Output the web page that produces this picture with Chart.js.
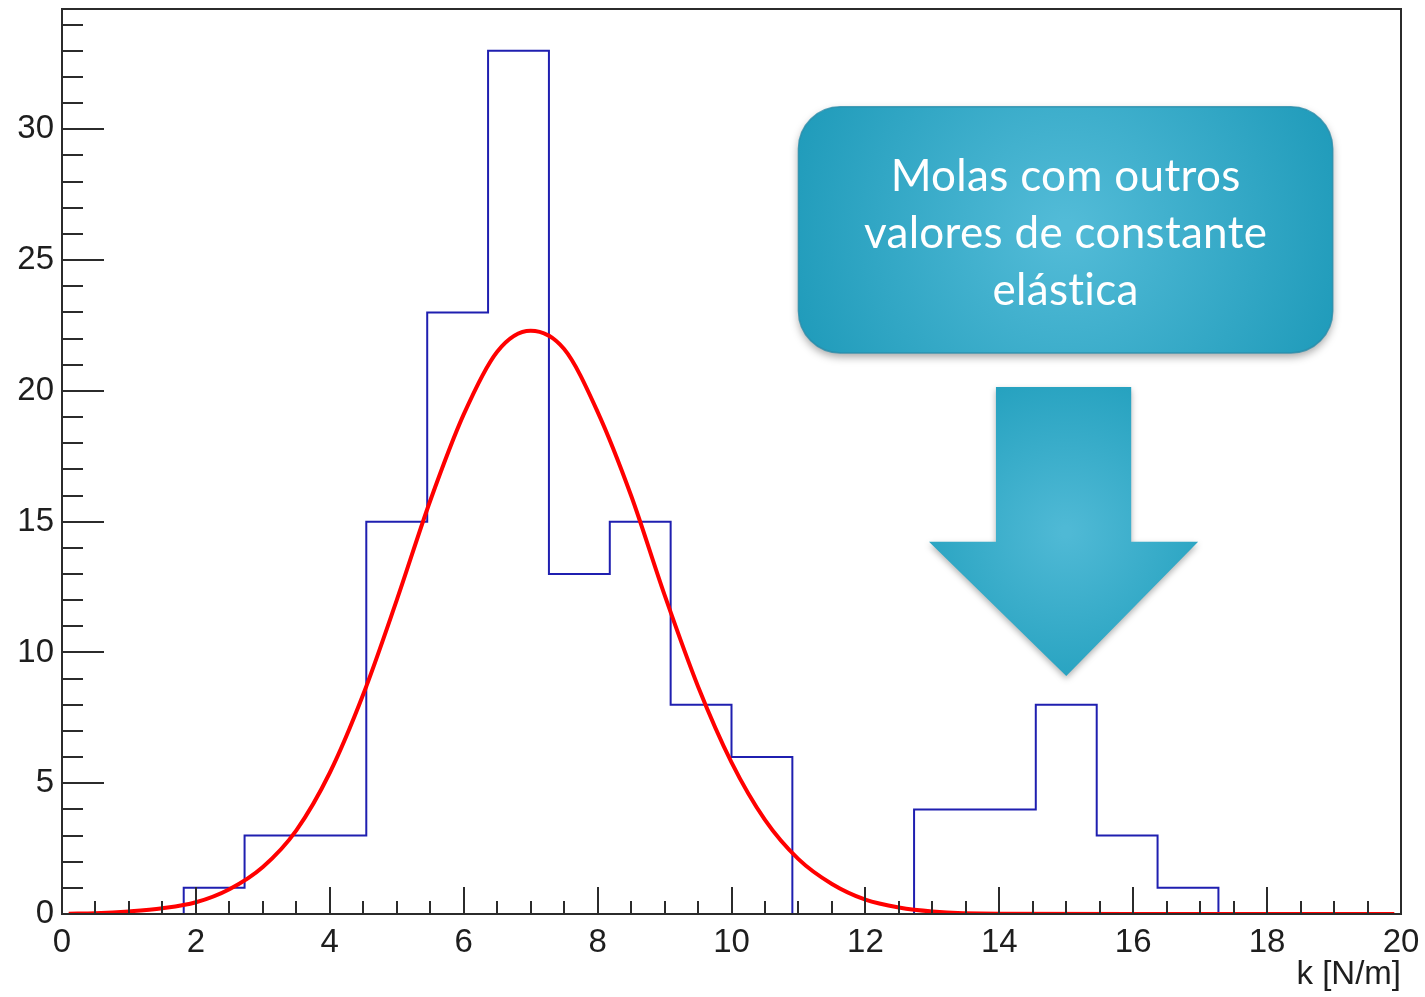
<!DOCTYPE html>
<html>
<head>
<meta charset="utf-8">
<script src="https://cdn.jsdelivr.net/npm/chart.js@4.4.1/dist/chart.umd.min.js"></script>
<style>
  html, body { margin: 0; padding: 0; background: #fff; }
  #wrap { width: 1425px; height: 997px; }
</style>
</head>
<body>
<div id="wrap"><canvas id="hist"></canvas></div>
<script>
// 1. Histogram data - 22 bins between 0 and 20
const binLow = [0, 0.909, 1.818, 2.727, 3.636, 4.545, 5.455, 6.364, 7.273, 8.182, 9.091,
                10, 10.909, 11.818, 12.727, 13.636, 14.545, 15.455, 16.364, 17.273, 18.182, 19.091];
const binTop = 20;
const counts = [0, 0, 1, 3, 3, 15, 23, 33, 13, 15, 8, 6, 0, 0, 4, 4, 8, 3, 1, 0, 0, 0];

// 2. Fit curve (red)
const fitX = [0.1, 0.5, 1, 1.5, 2, 2.5, 3, 3.5, 4, 4.5, 5, 5.5, 6, 6.5, 7, 7.5, 8, 8.5, 9, 9.5,
              10, 10.5, 11, 11.5, 12, 12.5, 13, 14, 16, 18, 19.9];
const fitY = [0.01, 0.03, 0.1, 0.22, 0.45, 0.95, 1.8, 3.2, 5.4, 8.4, 12.0, 15.8, 19.1, 21.5, 22.3, 21.6, 19.2, 16.0, 12.2, 8.7,
              5.8, 3.6, 2.1, 1.15, 0.55, 0.25, 0.1, 0.01, 0, 0, 0];

// 3. Axis stuff
const xMin = 0, xMax = 20, xStep = 2;
const yMin = 0, yMax = 34.6, yStep = 5;
const xTitle = 'k [N/m]';
const calloutLines = ['Molas com outros', 'valores de constante', 'elástica'];

// histogram as step line: horizontal at each bin count, last point closes at the top edge
const histPoints = binLow.map((x, i) => ({ x: x, y: counts[i] }));
histPoints.push({ x: binTop, y: 0 });

const fitPoints = fitX.map((x, i) => ({ x: x, y: fitY[i] }));

const labelFont = { family: '"Liberation Sans", Arial, sans-serif', size: 33 };

// ROOT style frame + inside ticks
const rootFrame = {
  id: 'rootFrame',
  afterDraw(chart) {
    const { ctx, chartArea: a, scales: { x, y } } = chart;
    ctx.save();
    ctx.strokeStyle = '#2b2b2b';
    ctx.lineWidth = 2;
    ctx.strokeRect(a.left, a.top, a.right - a.left, a.bottom - a.top);

    ctx.beginPath();
    // x ticks every 0.5, major every 2
    for (let i = 0; i <= 40; i++) {
      const px = Math.round(x.getPixelForValue(i * 0.5));
      const len = (i % 4 === 0) ? 27 : 13;
      ctx.moveTo(px, a.bottom);
      ctx.lineTo(px, a.bottom - len);
    }
    // y ticks every 1, major every 5
    for (let j = 0; j <= 34; j++) {
      const py = Math.round(y.getPixelForValue(j));
      const len = (j % 5 === 0) ? 42 : 21;
      ctx.moveTo(a.left, py);
      ctx.lineTo(a.left + len, py);
    }
    ctx.stroke();
    ctx.restore();
  }
};

// Callout box + big arrow (positions in data units)
const callout = {
  id: 'callout',
  afterDraw(chart) {
    const { ctx, scales: { x, y } } = chart;
    ctx.save();

    // box
    const bx1 = x.getPixelForValue(11), bx2 = x.getPixelForValue(18.98);
    const by1 = y.getPixelForValue(30.86), by2 = y.getPixelForValue(21.45);
    const cx = (bx1 + bx2) / 2, cy = (by1 + by2) / 2;
    let g = ctx.createRadialGradient(cx, cy, 10, cx, cy, (bx2 - bx1) / 1.9);
    g.addColorStop(0, '#52bbd7');
    g.addColorStop(1, '#219cbb');
    ctx.shadowColor = 'rgba(0,0,0,0.35)';
    ctx.shadowBlur = 8;
    ctx.shadowOffsetY = 4;
    ctx.beginPath();
    ctx.roundRect(bx1, by1, bx2 - bx1, by2 - by1, 42);
    ctx.fillStyle = g;
    ctx.fill();
    ctx.shadowColor = 'transparent';
    ctx.strokeStyle = 'rgba(40,140,170,0.8)';
    ctx.lineWidth = 1.5;
    ctx.stroke();

    ctx.fillStyle = '#ffffff';
    ctx.font = '44px Lato, "Open Sans", sans-serif';
    if ('letterSpacing' in ctx) ctx.letterSpacing = '0.3px';   // also kills the "ti" ligature
    ctx.textAlign = 'center';
    ctx.textBaseline = 'middle';
    calloutLines.forEach((t, i) => {
      ctx.fillText(t, cx, cy + (i - 1) * 57 + 4);
    });
    if ('letterSpacing' in ctx) ctx.letterSpacing = '0px';

    // arrow
    const sx1 = x.getPixelForValue(13.95), sx2 = x.getPixelForValue(15.97);
    const hx1 = x.getPixelForValue(12.95), hx2 = x.getPixelForValue(16.97);
    const ay1 = y.getPixelForValue(20.15), ay2 = y.getPixelForValue(14.23);
    const tipX = x.getPixelForValue(15.0), tipY = y.getPixelForValue(9.1);
    const acy = ay2 - 10;
    g = ctx.createRadialGradient(tipX, acy, 5, tipX, acy, 170);
    g.addColorStop(0, '#4fb9d5');
    g.addColorStop(1, '#23a0be');
    ctx.shadowColor = 'rgba(0,0,0,0.3)';
    ctx.shadowBlur = 6;
    ctx.shadowOffsetY = 3;
    ctx.beginPath();
    ctx.moveTo(sx1, ay1);
    ctx.lineTo(sx2, ay1);
    ctx.lineTo(sx2, ay2);
    ctx.lineTo(hx2, ay2);
    ctx.lineTo(tipX, tipY);
    ctx.lineTo(hx1, ay2);
    ctx.lineTo(sx1, ay2);
    ctx.closePath();
    ctx.fillStyle = g;
    ctx.fill();
    ctx.restore();
  }
};

new Chart(document.getElementById('hist'), {
  type: 'line',
  data: {
    datasets: [
      {
        data: fitPoints,
        borderColor: '#ff0000',
        borderWidth: 4,
        pointRadius: 0,
        cubicInterpolationMode: 'monotone',
        fill: false,
        order: 0
      },
      {
        data: histPoints,
        borderColor: '#1f1fb0',
        borderWidth: 2,
        pointRadius: 0,
        stepped: 'before',
        fill: false,
        order: 1
      }
    ]
  },
  options: {
    responsive: true,
    maintainAspectRatio: false,
    animation: false,
    layout: { padding: { left: 0, top: 9, right: 24, bottom: 0 } },
    plugins: { legend: { display: false }, tooltip: { enabled: false } },
    scales: {
      x: {
        type: 'linear',
        min: xMin, max: xMax,
        grid: { display: false, drawTicks: false },
        border: { display: false },
        ticks: {
          stepSize: xStep, autoSkip: false, maxRotation: 0,
          color: '#1e1e1e', font: labelFont, padding: 9
        },
        title: {
          display: true, text: xTitle, align: 'end',
          color: '#1e1e1e', font: labelFont, padding: { top: 0, bottom: 2 }
        },
        afterFit(scale) {
          scale.height = 83;
          scale.paddingLeft = 0;
          scale.paddingRight = 0;
        }
      },
      y: {
        type: 'linear',
        min: yMin, max: yMax,
        grid: { display: false, drawTicks: false },
        border: { display: false },
        ticks: {
          stepSize: yStep, autoSkip: false,
          color: '#1e1e1e', font: labelFont, padding: 8,
          callback: v => (v % 5 === 0 ? v : '')
        },
        afterFit(scale) {
          scale.width = 62;
          // no extra room for half labels at the top, frame starts right at the padding
          scale.paddingTop = 0;
          scale.paddingBottom = 0;
        }
      }
    }
  },
  plugins: [rootFrame, callout]
});
</script>
</body>
</html>
